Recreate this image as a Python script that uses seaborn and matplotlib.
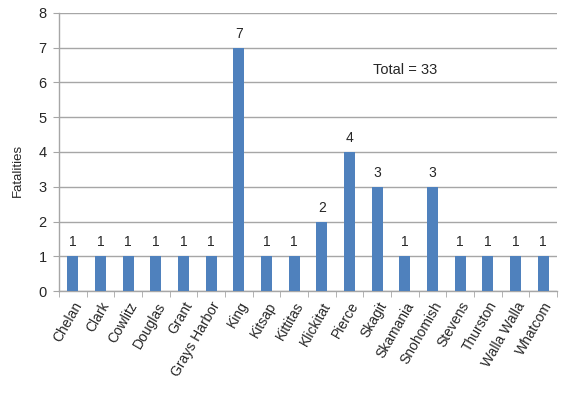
import matplotlib
matplotlib.use("Agg")
import matplotlib.pyplot as plt
import seaborn as sns
import pandas as pd
import numpy as np

counties = ["Chelan", "Clark", "Cowlitz", "Douglas", "Grant", "Grays Harbor", "King",
            "Kitsap", "Kittitas", "Klickitat", "Pierce", "Skagit", "Skamania",
            "Snohomish", "Stevens", "Thurston", "Walla Walla", "Whatcom"]
fatalities = [1, 1, 1, 1, 1, 1, 7, 1, 1, 2, 4, 3, 1, 3, 1, 1, 1, 1]
y_ticks = [0, 1, 2, 3, 4, 5, 6, 7, 8]

sns.set_style("white")
plt.rcParams['font.family'] = ['Liberation Sans', 'DejaVu Sans']

df = pd.DataFrame({"County": counties, "Fatalities": fatalities})

fig = plt.figure(figsize=(5.69, 3.93), dpi=100)
ax = fig.add_axes([0.1037, 0.2595, 0.8753, 0.7075])

sns.barplot(data=df, x="County", y="Fatalities", color="#4F81BD", width=0.4,
            saturation=1, ax=ax, zorder=3, linewidth=0, edgecolor="none")

ax.set_ylim(0, 8)
ax.set_xlim(-0.5, len(counties) - 0.5)
ax.set_yticks(y_ticks)
ax.yaxis.grid(True, color="#A6A6A6", linewidth=1, zorder=0)
ax.set_axisbelow(True)

for s in ["top", "right"]:
    ax.spines[s].set_visible(False)
for s in ["left", "bottom"]:
    ax.spines[s].set_color("#A6A6A6")
    ax.spines[s].set_linewidth(1)

ax.tick_params(axis="y", which="major", direction="out", length=4, color="#A6A6A6",
               left=True, labelsize=10.5, pad=5)
ax.set_xticks(np.arange(len(counties)))
ax.set_xticklabels(counties, rotation=60, ha="right", rotation_mode="anchor", fontsize=10)
ax.tick_params(axis="x", which="major", length=0, pad=6)
ax.set_xticks(np.arange(len(counties) + 1) - 0.5, minor=True)
ax.tick_params(axis="x", which="minor", direction="out", length=4, color="#A6A6A6", bottom=True)

ax.set_xlabel("")
ax.set_ylabel("Fatalities", fontsize=9.5, va="center")
ax.yaxis.set_label_coords(-0.082, 0.435)

for c in ax.containers:
    ax.bar_label(c, fmt="%d", padding=5, fontsize=10)

ax.text(0.695, 0.795, "Total = 33", transform=ax.transAxes, ha="center", va="center",
        fontsize=10.5)

fig.savefig("out.png", dpi=100)
